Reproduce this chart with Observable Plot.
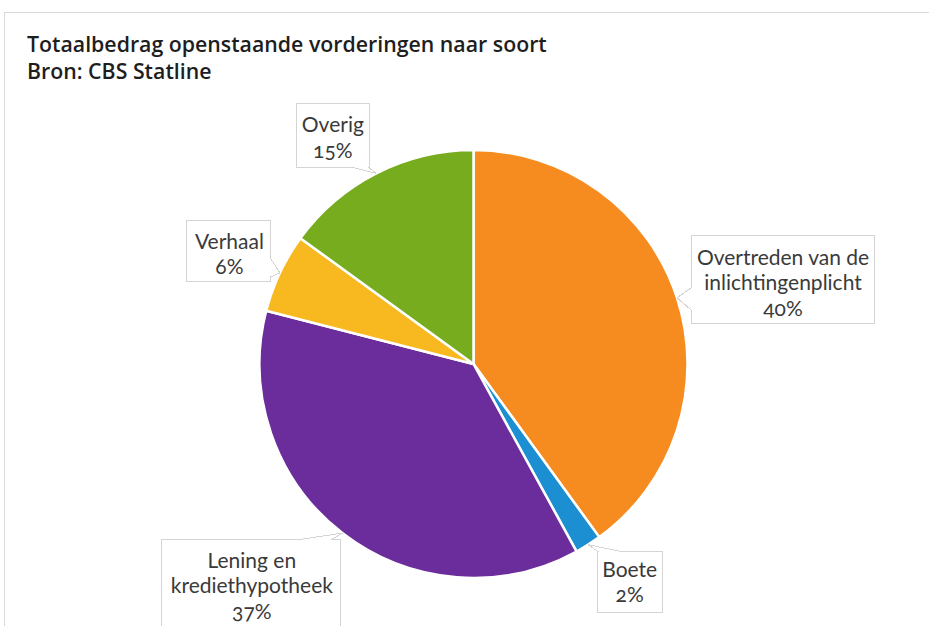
<!DOCTYPE html>
<html>
<head>
<meta charset="utf-8">
<script src="https://cdn.jsdelivr.net/npm/d3@7"></script>
<script src="https://cdn.jsdelivr.net/npm/@observablehq/plot@0.6"></script>
<style>
  html, body { margin: 0; padding: 0; background: #fff; }
  body { width: 929px; height: 626px; overflow: hidden; position: relative; }
  #frame { position: absolute; left: 4px; top: 12px; right: -2px; bottom: -2px;
           border-top: 1px solid #d9d9d9; border-left: 1px solid #d9d9d9; pointer-events: none; }
  #head { box-sizing: border-box; height: 90px; padding: 30px 0 0 27px;
          font-family: "Open Sans", sans-serif; font-weight: 600; font-size: 21.3px; line-height: 27px; color: #1e1e1e; }
  #chart svg text { font-variant-numeric: oldstyle-nums; }
</style>
</head>
<body>
<div id="frame"></div>
<div id="head">
  <div>Totaalbedrag openstaande vorderingen naar soort</div>
  <div>Bron: CBS Statline</div>
</div>
<div id="chart"></div>
<script>
// ---- data ----
const categories = ["Overtreden van de inlichtingenplicht", "Boete", "Lening en krediethypotheek", "Verhaal", "Overig"];
const labelText = ["Overtreden van de\ninlichtingenplicht", "Boete", "Lening en\nkrediethypotheek", "Verhaal", "Overig"];
const shares = [40, 2, 37, 6, 15];
const colors = ["#f68b1f", "#1b8fd1", "#6b2d9b", "#f7b820", "#76ac1d"];

// ---- layout of callouts (pixel offsets from the slice tip) ----
const callout = [
  {box: [14, -62, 197, 26],  edge: "left",   base: [-10, 12],  tx: 105.5, base1: -37},
  {box: [9, 7, 74, 68],      edge: "top",    base: [10, 34],   tx: 41,    base1: 28.5},
  {box: [-181, 6, -2, 120],  edge: "top",    base: [-40, -10], tx: -91,   base1: 31},
  {box: [-93, -52, -9, 9],   edge: "right",  base: [-14, 4],   tx: -51,   base1: -28},
  {box: [-80, -70, -7, -6],  edge: "bottom", base: [-24, -8],  tx: -44,   base1: -45}
];
const fontSize = 21, lineH = 25.5;

const arcs = d3.pie().sort(null).value(d => d)(shares);
const slices = arcs.map((a, i) => {
  const mid = (a.startAngle + a.endAngle) / 2;
  return {category: categories[i], label: labelText[i] + "\n" + shares[i] + "%", share: shares[i],
          color: colors[i], a, mx: Math.sin(mid), my: Math.cos(mid), c: callout[i]};
});

function pieMark(index, scales) {
  const {x, y} = scales;
  const cx = x(0), cy = y(0), r = x(1) - x(0);
  const arc = d3.arc().innerRadius(0).outerRadius(r);
  const g = d3.create("svg:g").attr("transform", `translate(${cx},${cy})`);
  g.selectAll("path").data(slices).join("path")
    .attr("d", d => arc(d.a))
    .attr("fill", d => d.color)
    .attr("stroke", "#fff").attr("stroke-width", 2.5).attr("stroke-linejoin", "round");
  return g.node();
}

function calloutMark(index, scales) {
  const {x, y} = scales;
  const g = d3.create("svg:g");
  for (const s of slices) {
    const tx = x(s.mx), ty = y(s.my);
    const [x1, y1, x2, y2] = s.c.box, [a, b] = s.c.base;
    const pts = [[x1, y1]];
    if (s.c.edge === "top") pts.push([a, y1], [0, 0], [b, y1]);
    pts.push([x2, y1]);
    if (s.c.edge === "right") pts.push([x2, a], [0, 0], [x2, b]);
    pts.push([x2, y2]);
    if (s.c.edge === "bottom") pts.push([b, y2], [0, 0], [a, y2]);
    pts.push([x1, y2]);
    if (s.c.edge === "left") pts.push([x1, b], [0, 0], [x1, a]);
    g.append("path")
      .attr("d", "M" + pts.map(p => [tx + p[0], ty + p[1]].join(",")).join("L") + "Z")
      .attr("fill", "#fff").attr("stroke", "#d4d4d4").attr("stroke-width", 1)
      .attr("shape-rendering", "crispEdges");
  }
  return g.node();
}

const textMarks = slices.map(s => Plot.text([s], {
  x: "mx", y: "my", text: "label",
  dx: s.c.tx, dy: s.c.base1 - 0.71 * fontSize,
  lineAnchor: "top", textAnchor: "middle", lineHeight: lineH / fontSize,
  fontSize, fill: "#3a3a3a"
}));

const chart = Plot.plot({
  width: 929, height: 536, margin: 0,
  x: {domain: [-1, 1], range: [259.5, 687.5], axis: null},
  y: {domain: [-1, 1], range: [488, 60], axis: null},
  style: {fontFamily: "Lato, sans-serif", background: "transparent", overflow: "visible"},
  marks: [pieMark, calloutMark, ...textMarks]
});
document.getElementById("chart").appendChild(chart);
</script>
</body>
</html>
